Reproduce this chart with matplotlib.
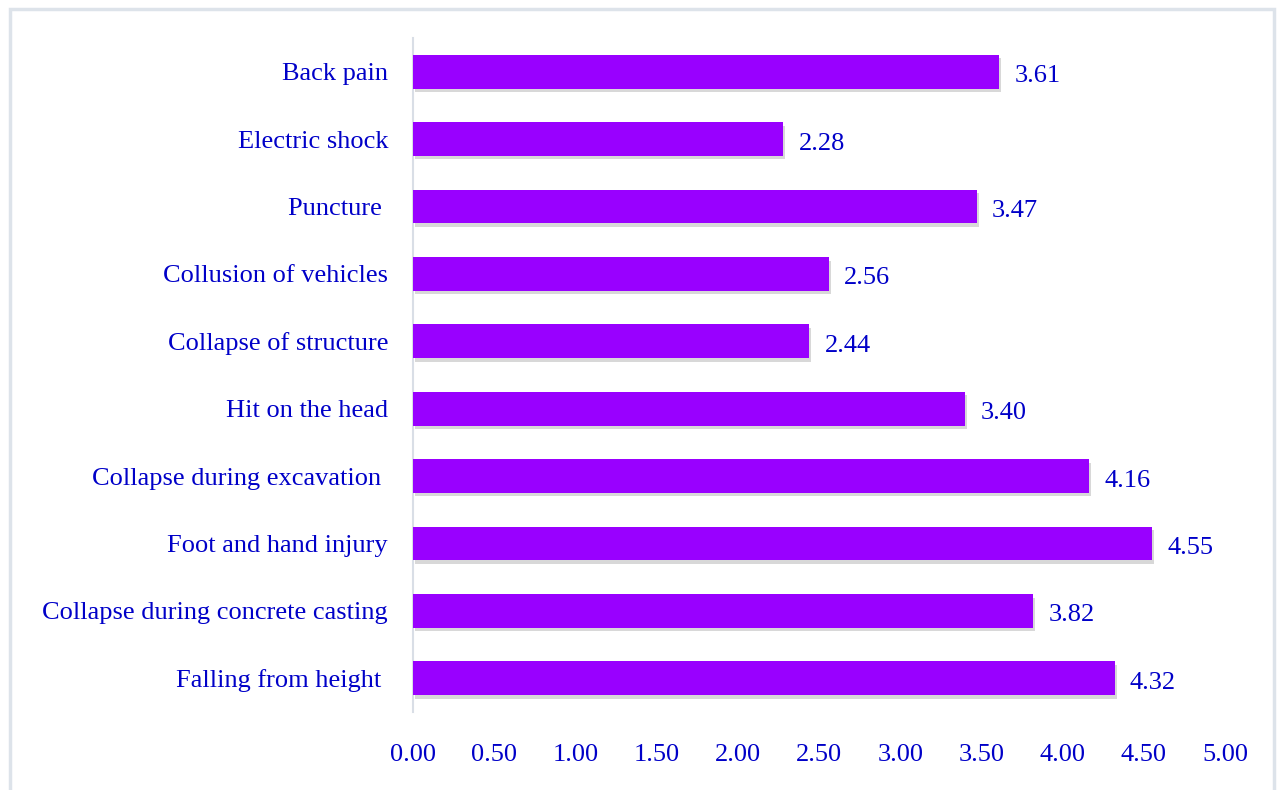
import matplotlib
matplotlib.use("Agg")
import matplotlib.pyplot as plt
import matplotlib.patheffects as pe
from matplotlib.patches import Rectangle

categories = ["Falling from height ", "Collapse during concrete casting", "Foot and hand injury",
              "Collapse during excavation ", "Hit on the head", "Collapse of structure",
              "Collusion of vehicles", "Puncture ", "Electric shock", "Back pain"]
values = [4.32, 3.82, 4.55, 4.16, 3.40, 2.44, 2.56, 3.47, 2.28, 3.61]
xticks = [0.0, 0.5, 1.0, 1.5, 2.0, 2.5, 3.0, 3.5, 4.0, 4.5, 5.0]

plt.rcParams['font.family'] = ['Liberation Serif', 'DejaVu Serif']
txt_color = '#0000C8'
bar_color = '#9900FF'

fig = plt.figure(figsize=(12.82, 7.90), dpi=100)
ax = fig.add_axes([413/1282, 1-712/790, (1225-413)/1282, (712-38)/790])

pos = list(range(len(categories)))
bars = ax.barh(pos, values, height=0.5, color=bar_color, zorder=3)
for b in bars:
    b.set_path_effects([pe.SimplePatchShadow(offset=(1.5, -2.5), shadow_rgbFace='#909090', alpha=0.35), pe.Normal()])

for p, v in zip(pos, values):
    ax.text(v + 0.095, p - 0.03, f"{v:.2f}", va='center_baseline', ha='left', fontsize=19, color=txt_color)

ax.set_xlim(0, 5)
ax.set_ylim(-0.5, len(categories) - 0.5)
ax.set_xticks(xticks)
ax.set_xticklabels([f"{t:.2f}" for t in xticks])
ax.set_yticks(pos)
ax.set_yticklabels(categories, va='center_baseline')
ax.tick_params(axis='both', length=0, labelsize=19, labelcolor=txt_color)
ax.tick_params(axis='y', pad=18)
ax.tick_params(axis='x', pad=23)
for s in ['top', 'right', 'bottom']:
    ax.spines[s].set_visible(False)
ax.spines['left'].set_color('#D9DEE6')
ax.spines['left'].set_linewidth(1.5)

fig.patches.append(Rectangle((10/1282, -0.05), (1274-10)/1282, 1.05 - 9/790,
                             transform=fig.transFigure, fill=False,
                             edgecolor='#DDE3EA', linewidth=2.5))

fig.savefig("out.png", dpi=100)
